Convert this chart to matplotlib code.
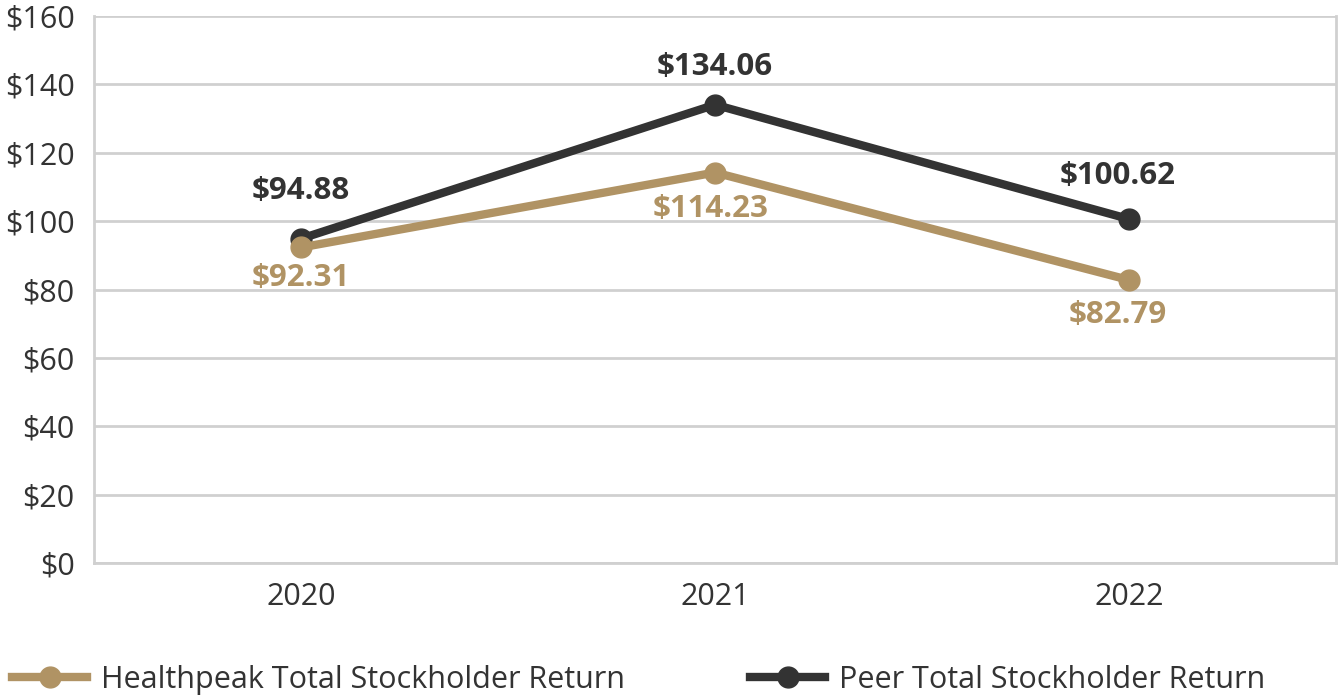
import matplotlib.pyplot as plt

years = ['2020', '2021', '2022']
healthpeak = [92.31, 114.23, 82.79]
peer = [94.88, 134.06, 100.62]
yticks = [0, 20, 40, 60, 80, 100, 120, 140, 160]

gold = '#B09364'
dark = '#333333'
grid_color = '#D0D0D0'

plt.rcParams['font.family'] = ['Open Sans', 'DejaVu Sans']

fig = plt.figure(figsize=(13.38, 6.98), dpi=100)
ax = fig.add_axes([0.0703, 0.1934, 0.9282, 0.7836])

x = list(range(len(years)))
ax.plot(x, peer, color=dark, lw=6, marker='o', ms=15, label='Peer Total Stockholder Return', zorder=3)
ax.plot(x, healthpeak, color=gold, lw=6, marker='o', ms=15, label='Healthpeak Total Stockholder Return', zorder=4)

# label offsets in points (style only)
peer_off = [(0, 34), (0, 27), (-8, 31)]
hp_off = [(0, -22), (-3, -26), (-8, -25)]
for i in x:
    ax.annotate(f'${peer[i]:.2f}', (i, peer[i]), xytext=peer_off[i], textcoords='offset points',
                ha='center', va='center', fontsize=22.5, fontweight='bold', color=dark)
    ax.annotate(f'${healthpeak[i]:.2f}', (i, healthpeak[i]), xytext=hp_off[i], textcoords='offset points',
                ha='center', va='center', fontsize=22.5, fontweight='bold', color=gold)

ax.set_xlim(-0.5, 2.5)
ax.set_ylim(0, 160)
ax.set_yticks(yticks)
ax.set_yticklabels([f'${v}' for v in yticks])
ax.set_xticks(x)
ax.set_xticklabels(years)
ax.tick_params(axis='both', length=0, labelsize=22, colors='#333333')
ax.tick_params(axis='y', pad=14)
ax.tick_params(axis='x', pad=14)
ax.grid(axis='y', color=grid_color, lw=2)
ax.set_axisbelow(True)
for s in ['left', 'right', 'bottom']:
    ax.spines[s].set_color(grid_color)
    ax.spines[s].set_linewidth(2)
ax.spines['top'].set_visible(False)

handles, labels = ax.get_legend_handles_labels()
fig.legend(handles[::-1], labels[::-1], loc='center left', bbox_to_anchor=(0.0, 0.026), ncol=2,
           frameon=False, fontsize=22, handlelength=2.45, handletextpad=0.46, columnspacing=4.1,
           labelcolor='#333333', borderaxespad=0)

fig.savefig('out.png', dpi=100)
